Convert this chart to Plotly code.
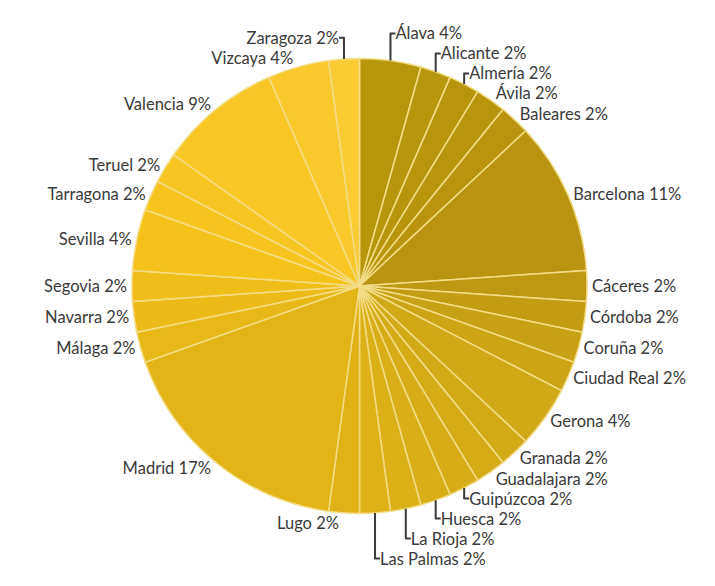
import plotly.graph_objects as go

provinces = ["Álava", "Alicante", "Almería", "Ávila", "Baleares", "Barcelona",
             "Cáceres", "Córdoba", "Coruña", "Ciudad Real", "Gerona", "Granada",
             "Guadalajara", "Guipúzcoa", "Huesca", "La Rioja", "Las Palmas", "Lugo",
             "Madrid", "Málaga", "Navarra", "Segovia", "Sevilla", "Tarragona",
             "Teruel", "Valencia", "Vizcaya", "Zaragoza"]
counts = [2, 1, 1, 1, 1, 5,
          1, 1, 1, 1, 2, 1,
          1, 1, 1, 1, 1, 1,
          8, 1, 1, 1, 2, 1,
          1, 4, 2, 1]

# golden shades: anchor slice index -> rgb, interpolated in between (styling only)
anchors = [(0, (184, 150, 12)), (5, (186, 148, 16)), (10, (208, 168, 24)),
           (18, (227, 180, 24)), (22, (245, 194, 28)), (25, (248, 198, 37)),
           (27, (250, 203, 52))]
colors = []
for i in range(len(provinces)):
    for (i0, c0), (i1, c1) in zip(anchors[:-1], anchors[1:]):
        if i0 <= i <= i1:
            u = (i - i0) / (i1 - i0)
            c = tuple(round(c0[k] + (c1[k] - c0[k]) * u) for k in range(3))
            break
    colors.append("rgb(%d,%d,%d)" % c)

fig = go.Figure(go.Pie(
    labels=provinces,
    values=counts,
    sort=False,
    direction="clockwise",
    rotation=0,
    marker=dict(colors=colors, line=dict(color="#f3dc86", width=1.5)),
    textposition="outside",
    texttemplate="%{label} %{percent:.0%}",
    outsidetextfont=dict(family="Lato", size=16.5, color="#3a3a3a"),
    hoverinfo="label+percent",
    showlegend=False,
))

fig.update_layout(
    width=715, height=586,
    margin=dict(l=0, r=0, t=50, b=80),
    paper_bgcolor="white",
    plot_bgcolor="white",
)

fig.write_html("out.html")
